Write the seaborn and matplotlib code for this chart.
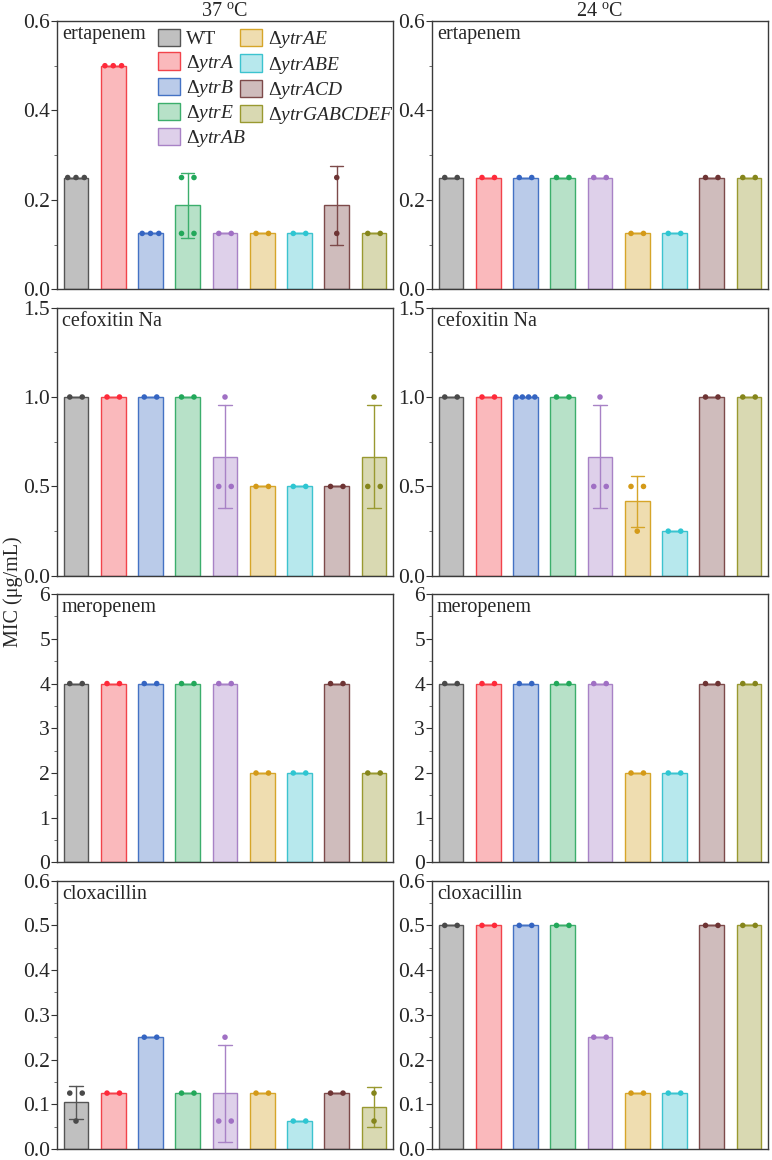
import matplotlib
matplotlib.use("Agg")
import matplotlib.pyplot as plt
from matplotlib.patches import Patch
from matplotlib.colors import to_rgba
from matplotlib.ticker import MultipleLocator, FormatStrFormatter
import pandas as pd
import seaborn as sns

# strains, in plotting order
strains = ["WT", "ytrA", "ytrB", "ytrE", "ytrAB", "ytrAE", "ytrABE", "ytrACD", "ytrGABCDEF"]
edge_colors = ["#555555", "#f2434b", "#4472c4", "#3cae6c", "#a882c6",
               "#d6a529", "#3cc3cf", "#7d4a4a", "#999930"]
point_colors = ["#4a4a4a", "#ff2a3a", "#3565c2", "#22a85a", "#a070c4",
                "#d49a18", "#2ec6d2", "#6e3434", "#85851c"]

drugs = ["ertapenem", "cefoxitin Na", "meropenem", "cloxacillin"]
temps = ["37 $^{\\rm o}$C", "24 $^{\\rm o}$C"]
ymax = [0.6, 1.5, 6, 0.6]
ystep = [0.2, 0.5, 1, 0.1]
yfmt = ["%.1f", "%.1f", "%d", "%.1f"]

# replicate MIC values (ug/mL), one list per strain
ertapenem_37 = [[0.25, 0.25, 0.25], [0.5, 0.5, 0.5], [0.125, 0.125, 0.125],
                [0.25, 0.25, 0.125, 0.125], [0.125, 0.125], [0.125, 0.125],
                [0.125, 0.125], [0.25, 0.125], [0.125, 0.125]]
ertapenem_24 = [[0.25, 0.25], [0.25, 0.25], [0.25, 0.25], [0.25, 0.25], [0.25, 0.25],
                [0.125, 0.125], [0.125, 0.125], [0.25, 0.25], [0.25, 0.25]]
cefoxitin_37 = [[1, 1], [1, 1], [1, 1], [1, 1], [1, 0.5, 0.5],
                [0.5, 0.5], [0.5, 0.5], [0.5, 0.5], [1, 0.5, 0.5]]
cefoxitin_24 = [[1, 1], [1, 1], [1, 1, 1, 1], [1, 1], [1, 0.5, 0.5],
                [0.5, 0.5, 0.25], [0.25, 0.25], [1, 1], [1, 1]]
meropenem_37 = [[4, 4], [4, 4], [4, 4], [4, 4], [4, 4],
                [2, 2], [2, 2], [4, 4], [2, 2]]
meropenem_24 = [[4, 4], [4, 4], [4, 4], [4, 4], [4, 4],
                [2, 2], [2, 2], [4, 4], [4, 4]]
cloxacillin_37 = [[0.125, 0.125, 0.0625], [0.125, 0.125], [0.25, 0.25], [0.125, 0.125],
                  [0.25, 0.0625, 0.0625], [0.125, 0.125], [0.0625, 0.0625],
                  [0.125, 0.125], [0.125, 0.0625]]
cloxacillin_24 = [[0.5, 0.5], [0.5, 0.5], [0.5, 0.5], [0.5, 0.5], [0.25, 0.25],
                  [0.125, 0.125], [0.125, 0.125], [0.5, 0.5], [0.5, 0.5]]

panels = [[ertapenem_37, ertapenem_24],
          [cefoxitin_37, cefoxitin_24],
          [meropenem_37, meropenem_24],
          [cloxacillin_37, cloxacillin_24]]

bar_width = 0.67


def label(s):
    if s == "WT":
        return "WT"
    return "Δ$\\it{" + s + "}$"


def make_tables(values):
    bars = []
    pts = []
    for i, (s, reps) in enumerate(zip(strains, values)):
        for v in reps:
            bars.append((s, v))
        # equal values share one row, spread over the bar width
        for v in sorted(set(reps)):
            n = reps.count(v)
            for k in range(n):
                pts.append((s, v, i + (k - (n - 1) / 2) * bar_width / n))
    return (pd.DataFrame(bars, columns=["strain", "mic"]),
            pd.DataFrame(pts, columns=["strain", "mic", "xpos"]))


sns.set_style("ticks")
plt.rcParams["font.family"] = ["Liberation Serif", "DejaVu Serif"]
plt.rcParams["mathtext.fontset"] = "custom"
plt.rcParams["mathtext.rm"] = "Liberation Serif"
plt.rcParams["mathtext.it"] = "Liberation Serif:italic"
plt.rcParams["font.size"] = 14

fig, axes = plt.subplots(4, 2, figsize=(7.72, 11.6), dpi=100)
fig.subplots_adjust(left=57 / 772, right=768 / 772, top=1 - 21 / 1160,
                    bottom=1 - 1149 / 1160, wspace=0.116, hspace=0.068)

for r in range(4):
    for c in range(2):
        ax = axes[r, c]
        bars, pts = make_tables(panels[r][c])
        for i, s in enumerate(strains):
            col = edge_colors[i]
            sns.barplot(data=bars[bars.strain == s], x="strain", y="mic", order=strains,
                        color=col, saturation=1, width=bar_width, errorbar="sd",
                        capsize=0.35, err_kws={"color": col, "linewidth": 1.0}, ax=ax)
            for p in ax.containers[-1]:
                p.set_facecolor(to_rgba(col, 0.37))
                p.set_edgecolor(col)
                p.set_linewidth(1.0)
        sns.scatterplot(data=pts, x="xpos", y="mic", hue="strain", hue_order=strains,
                        palette=point_colors, s=16, edgecolor="none", legend=False,
                        zorder=4, ax=ax)
        ax.set_xlim(-0.51, 8.51)
        ax.set_ylim(0, ymax[r])
        ax.yaxis.set_major_locator(MultipleLocator(ystep[r]))
        ax.yaxis.set_minor_locator(MultipleLocator(ystep[r] / 2))
        ax.yaxis.set_major_formatter(FormatStrFormatter(yfmt[r]))
        ax.set_xticks([])
        ax.set_xlabel("")
        ax.set_ylabel("")
        ax.tick_params(axis="y", which="major", direction="out", length=4,
                       width=0.8, labelsize=15.5, pad=1, color="#333333")
        ax.tick_params(axis="y", which="minor", direction="out", length=2.5,
                       width=0.6, color="#555555")
        for sp in ax.spines.values():
            sp.set_visible(True)
            sp.set_color("#3a3a3a")
            sp.set_linewidth(1.0)
        ax.text(0.015, 0.985, drugs[r], transform=ax.transAxes, ha="left", va="top",
                fontsize=14.5)
        if r == 0:
            ax.set_title(temps[c], fontsize=14.5, pad=2)

handles = [Patch(facecolor=to_rgba(col, 0.37), edgecolor=col, linewidth=1.0)
           for col in edge_colors]
axes[0, 0].legend(handles, [label(s) for s in strains], ncol=2, loc="upper left",
                  bbox_to_anchor=(0.30, 0.97), frameon=False, borderaxespad=0,
                  borderpad=0, handlelength=1.15, handleheight=1.0,
                  handletextpad=0.3, labelspacing=0.2, columnspacing=-0.3,
                  fontsize=14)

fig.text(0.004, 0.49, "MIC (μg/mL)", rotation=90, ha="left", va="center", fontsize=14.5)

fig.savefig("out.png", dpi=100)
